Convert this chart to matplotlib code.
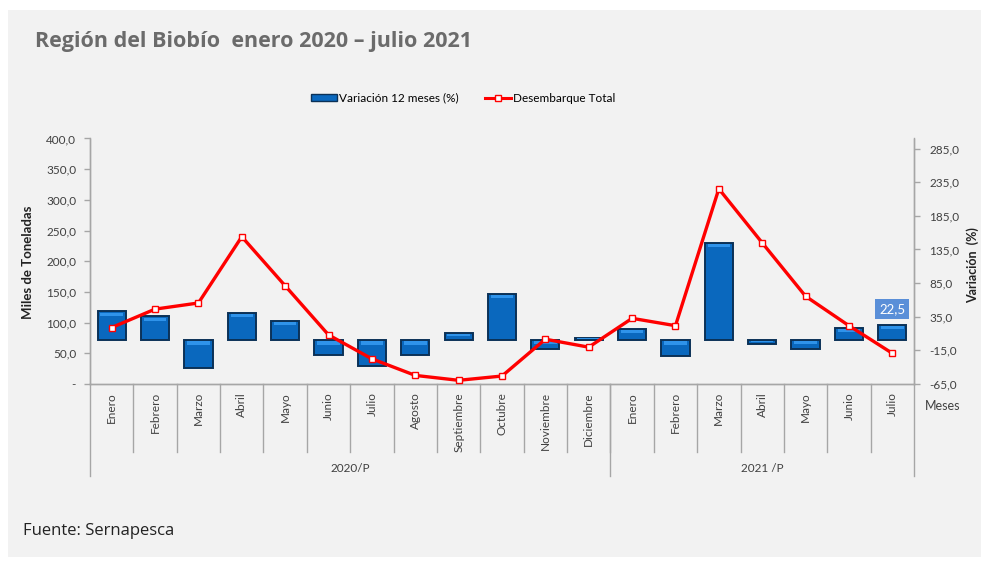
import matplotlib
matplotlib.use("Agg")
import matplotlib.pyplot as plt
import matplotlib.transforms as mtransforms
from matplotlib.patches import Rectangle, Patch
from matplotlib.lines import Line2D
import numpy as np

# ---------------- data ----------------
months = ["Enero", "Febrero", "Marzo", "Abril", "Mayo", "Junio", "Julio", "Agosto",
          "Septiembre", "Octubre", "Noviembre", "Diciembre",
          "Enero", "Febrero", "Marzo", "Abril", "Mayo", "Junio", "Julio"]
years = ["2020/P", "2021 /P"]
year_sizes = [12, 7]
variacion = [42.8, 35.4, -40.7, 40.4, 29.0, -22.3, -38.2, -22.5, 11.0, 69.0, -13.0, 3.5,
             17.0, -22.8, 144.3, -5.0, -12.4, 18.5, 22.5]
desembarque = [92, 122, 132, 240, 160, 80, 41, 14, 6, 13, 73, 60,
               107, 95, 318, 230, 143, 95, 50]
left_ticks = [0, 50, 100, 150, 200, 250, 300, 350, 400]
right_ticks = [-65, -15, 35, 85, 135, 185, 235, 285]

W, H = 981, 563
fig = plt.figure(figsize=(W / 100, H / 100), dpi=100, facecolor="white")

# grey panel
fig.patches.append(Rectangle((8 / W, (H - 557) / H), 1 - 8 / W, (557 - 10) / H,
                             transform=fig.transFigure, facecolor="#f2f2f2",
                             edgecolor="none", zorder=-10))

L, R, T, B = 90, 914, 138.5, 384
ax = fig.add_axes([L / W, (H - B) / H, (R - L) / W, (B - T) / H])
ax2 = ax.twinx()
ax.set_zorder(ax2.get_zorder() + 1)
ax.patch.set_visible(False)
ax2.patch.set_visible(False)

x = np.arange(len(months))
grey = "#a6a6a6"
txt = "#404040"
FONT = "Lato"

# bars (right axis) with a bevel-like highlight strip near the top edge
var = np.array(variacion)
ax2.bar(x, var, width=0.65, color="#0a68be", edgecolor="#0b3157",
        linewidth=1.4, zorder=2)
tops = np.maximum(var, 0)
heights = np.abs(var)
strip = np.minimum(4.5, heights * 0.35)
gap = np.minimum(1.8, heights * 0.1)
ax2.bar(x, strip, bottom=tops - gap - strip, width=0.52,
        color="#2f93ea", edgecolor="none", zorder=2.5)
ax2.set_ylim(-65, 300)
ax2.set_yticks(right_ticks)
ax2.set_yticklabels([f"{v:.1f}".replace(".", ",") for v in right_ticks],
                    fontsize=8.5, color=txt, family=FONT)

# line (left axis)
ax.plot(x, desembarque, color="#ff0000", linewidth=2.4, marker="s", markersize=4,
        markerfacecolor="white", markeredgecolor="#ff0000", markeredgewidth=1.0,
        zorder=3)
ax.set_ylim(0, 400)
ax.set_yticks(left_ticks)
ax.set_yticklabels(["-" if v == 0 else f"{v:.1f}".replace(".", ",") for v in left_ticks],
                   fontsize=8.5, color=txt, family=FONT)
ax.set_xlim(-0.5, len(months) - 0.5)
ax.set_xticks([])

for a in (ax, ax2):
    for s in a.spines.values():
        s.set_color(grey)
        s.set_linewidth(1.0)
    a.spines["top"].set_visible(False)
    a.tick_params(axis="y", length=4, width=1, color=grey, pad=6)
ax2.tick_params(axis="y", pad=7)

# data label
ax2.annotate("22,5", xy=(x[-1], variacion[-1]), xytext=(0, 7), textcoords="offset points",
             ha="center", va="bottom", fontsize=9.5, color="white", family=FONT,
             bbox=dict(boxstyle="square,pad=0.3", facecolor="#5a8fd8", edgecolor="none"))

# category axis decorations
trans = mtransforms.blended_transform_factory(ax.transData, ax.transAxes)
axh = B - T
for i in range(1, len(months)):
    ax.plot([i - 0.5, i - 0.5], [0, -68 / axh], color=grey, lw=1.0,
            transform=trans, clip_on=False)
starts = np.cumsum([0] + year_sizes)
for s in starts:
    ax.plot([s - 0.5, s - 0.5], [0, -92 / axh], color=grey, lw=1.0,
            transform=trans, clip_on=False)
for i, m in enumerate(months):
    ax.text(i, -8 / axh, m, rotation=90, ha="center", va="top", fontsize=8.5,
            color=txt, family=FONT, transform=trans)
for k, yname in enumerate(years):
    c = (starts[k] + starts[k + 1] - 1) / 2
    ax.text(c, -84 / axh, yname, ha="center", va="center", fontsize=8.5,
            color=txt, family=FONT, transform=trans)

# axis titles
fig.text(28 / W, 1 - 262 / H, "Miles de Toneladas", rotation=90, ha="center",
         va="center", fontsize=9.5, fontweight="bold", color="#222222", family=FONT)
fig.text(979 / W, 1 - 265 / H, "Variación  (%)", rotation=90, ha="right",
         va="center", fontsize=9, fontweight="bold", color="#222222", family=FONT)
fig.text(943 / W, 1 - 406 / H, "Meses", ha="center", va="center", fontsize=9,
         color=txt, family=FONT)

# title and source
fig.text(35 / W, 1 - 41 / H, "Región del Biobío  enero 2020 – julio 2021", ha="left",
         va="center", fontsize=15.5, fontweight="bold", color="#6b6b6b", family="Open Sans")
fig.text(23 / W, 1 - 531 / H, "Fuente: Sernapesca", ha="left", va="center",
         fontsize=12, color="#222222", family="Open Sans")

# legend
handles = [Patch(facecolor="#0a68be", edgecolor="#0b3157", linewidth=1.0),
           Line2D([0], [0], color="#ff0000", lw=2.2, marker="s", markersize=4,
                  markerfacecolor="white", markeredgecolor="#ff0000")]
fig.legend(handles, ["Variación 12 meses (%)", "Desembarque Total"],
           loc="center", bbox_to_anchor=(463 / W, 1 - 98 / H), ncol=2, frameon=False,
           prop={"family": FONT, "size": 8.5}, handlelength=2.2, handleheight=0.6,
           handletextpad=0.2, columnspacing=2.2)

fig.savefig("out.png", dpi=100, facecolor="white")
